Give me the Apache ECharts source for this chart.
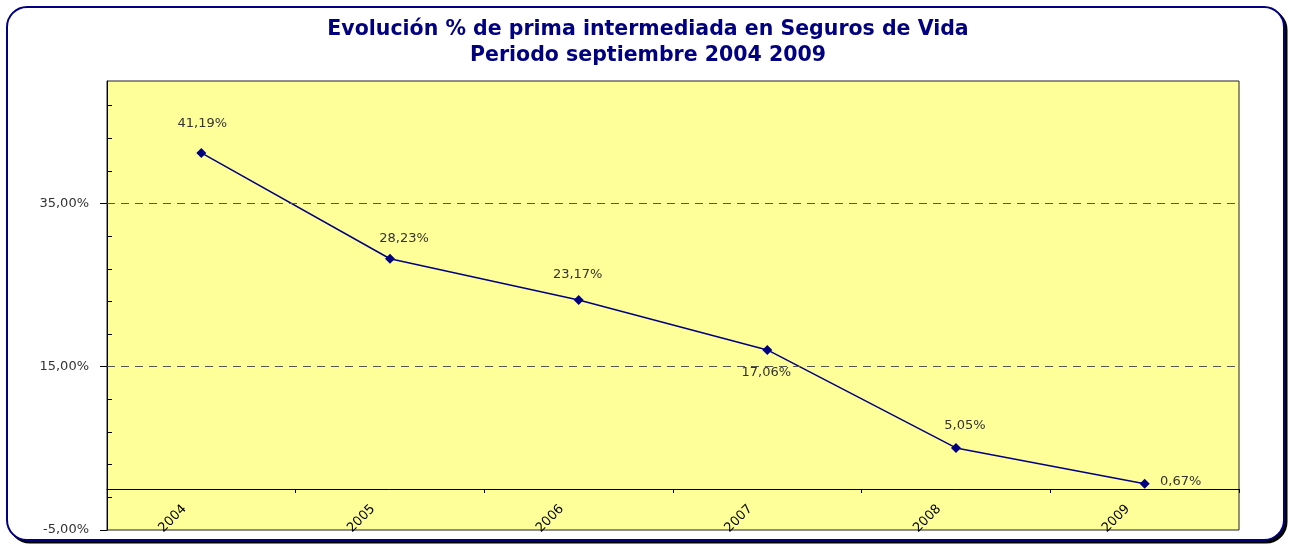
<!DOCTYPE html>
<html>
<head>
<meta charset="utf-8">
<script src="https://cdn.jsdelivr.net/npm/echarts@6/dist/echarts.min.js"></script>
<style>
html,body{margin:0;padding:0;background:#fff;}
#chart{width:1296px;height:544px;}
</style>
</head>
<body>
<div id="chart"></div>
<script>
var titleLines = ['Evolución % de prima intermediada en Seguros de Vida', 'Periodo septiembre 2004 2009'];
var categories = ['2004', '2005', '2006', '2007', '2008', '2009'];
var values = [41.19, 28.23, 23.17, 17.06, 5.05, 0.67];
var yMajorTicks = [-5, 15, 35];
var yMinorTicks = [-1, 3, 7, 11, 19, 23, 27, 31, 39, 43, 47];
var dashedLevels = [15, 35];

var labelOffsets = [[1, -29], [14, -20], [-1, -25], [-1, 23], [9, -22], [36, -2]];

function pct(v) { return v.toFixed(2).replace('.', ',') + '%'; }

var font = 'DejaVu Sans';
var seriesData = values.map(function (v, i) {
  return { value: v, label: { offset: labelOffsets[i] } };
});

var titleStyle = { fontFamily: font, fontWeight: 'bold', fontSize: 20.5, color: '#000080' };

var chart = echarts.init(document.getElementById('chart'));
chart.setOption({
  animation: false,
  backgroundColor: '#ffffff',
  graphic: [
    { type: 'rect', z: -20, shape: { x: 10, y: 10, width: 1276, height: 532, r: 20 },
      style: { fill: '#000', stroke: '#000', lineWidth: 3 } },
    { type: 'rect', z: -19, shape: { x: 7, y: 7, width: 1277, height: 533, r: 20 },
      style: { fill: '#fff', stroke: '#000080', lineWidth: 2 } }
  ],
  title: [
    { text: titleLines[0], left: 'center', top: 19, padding: [0, 0, 0, 14], textStyle: titleStyle },
    { text: titleLines[1], left: 'center', top: 45, padding: [0, 0, 0, 14], textStyle: titleStyle }
  ],
  grid: {
    left: 107, top: 81, right: 57, bottom: 14,
    containLabel: false,
    outerBoundsMode: 'none',
    show: true, backgroundColor: '#FFFF99', borderColor: '#222', borderWidth: 1
  },
  xAxis: {
    type: 'category',
    z: 10,
    position: 'bottom',
    offset: -41,
    data: categories,
    boundaryGap: true,
    axisLine: { onZero: false, lineStyle: { color: '#000', width: 1 } },
    axisTick: { show: true, inside: false, length: 4, lineStyle: { color: '#000' } },
    axisLabel: { show: true, hideOverlap: false, rotate: 45, margin: 1, padding: [0, 24, 0, 0], fontFamily: font, fontSize: 13, color: '#000' },
    splitLine: { show: false }
  },
  yAxis: [
    {
      type: 'value', min: -5, max: 50, interval: 20,
      axisLine: { show: true, lineStyle: { color: '#000', width: 1 } },
      axisTick: { show: true, inside: false, length: 7, customValues: yMajorTicks, lineStyle: { color: '#000' } },
      axisLabel: { show: true, margin: 18, customValues: yMajorTicks, fontFamily: font, fontSize: 13, color: '#333',
        formatter: function (v) { return pct(v); } },
      splitLine: { show: false }
    },
    {
      type: 'value', min: -5, max: 50, interval: 4, position: 'left',
      axisLine: { show: false },
      axisTick: { show: true, inside: true, length: 5, customValues: yMinorTicks, lineStyle: { color: '#000' } },
      axisLabel: { show: false },
      splitLine: { show: false }
    }
  ],
  series: [
    {
      type: 'line',
      data: seriesData,
      yAxisIndex: 0,
      symbol: 'diamond',
      symbolSize: 10,
      itemStyle: { color: '#000080' },
      lineStyle: { color: '#000080', width: 1.5 },
      label: { show: true, position: 'inside', fontFamily: font, fontSize: 13, color: '#333',
        formatter: function (p) { return pct(p.value); } },
      markLine: {
        silent: true,
        symbol: 'none',
        label: { show: false },
        lineStyle: { color: '#555', type: [8, 6], width: 1 },
        data: dashedLevels.map(function (v) { return { yAxis: v }; })
      },
      z: 3
    }
  ]
});
</script>
</body>
</html>
